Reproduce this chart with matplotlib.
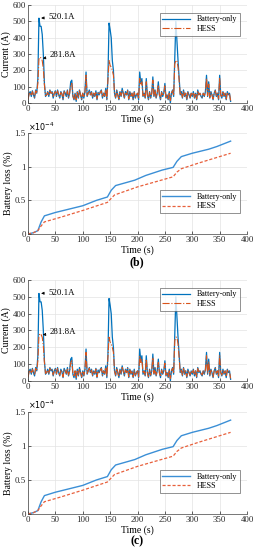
import numpy as np
import matplotlib
matplotlib.use('Agg')
import matplotlib.pyplot as plt
from matplotlib.ticker import FuncFormatter

plt.rcParams['font.family'] = ['Liberation Serif', 'DejaVu Serif']
plt.rcParams['font.size'] = 6

BLUE = '#0072BD'
ORANGE = '#D95319'

# current, sampled every 2 s from 0 to 370 s
t_cur = np.arange(0, 371, 2)
i_batt = [20, 60, 70, 40, 75, 50, 30, 80, 60, 150,
          520.1, 470, 470, 420, 300, 120, 40, 50, 70, 40,
          80, 60, 70, 30, 60, 75, 40, 80, 50, 30,
          70, 55, 20, 75, 60, 40, 80, 30, 60, 130,
          140, 40, 20, 60, 10, 70, 30, 80, 50, 20,
          60, 30, 70, 190, 40, 60, 80, 50, 70, 30,
          60, 40, 75, 20, 65, 50, 70, 80, 30, 60,
          40, 90, 20, 160, 490, 450, 400, 260, 200, 60,
          30, 80, 50, 20, 70, 40, 90, 60, 30, 70,
          50, 80, 20, 70, 40, 60, 20, 70, 30, 50,
          60, 20, 190, 120, 150, 40, 60, 30, 150, 50,
          20, 70, 30, 60, 160, 40, 80, 30, 60, 130,
          50, 20, 70, 40, 60, 120, 30, 50, 20, 70,
          0, 60, 80, 40, 280, 500, 380, 260, 160, 50,
          70, 30, 80, 40, 60, 20, 70, 50, 30, 60,
          40, 70, 30, 60, 20, 80, 50, 60, 40, 30,
          60, 40, 70, 170, 40, 130, 30, 70, 50, 20,
          60, 80, 40, 60, 20, 170, 50, 30, 70, 40,
          60, 20, 70, 50, 60, 10]
i_hess = [20, 55, 65, 45, 70, 50, 35, 75, 60, 120,
          270, 281.8, 275, 260, 210, 110, 45, 50, 65, 45,
          75, 60, 65, 35, 60, 70, 45, 75, 50, 35,
          65, 55, 25, 70, 60, 45, 75, 35, 60, 110,
          120, 45, 25, 60, 20, 65, 35, 75, 50, 25,
          60, 35, 65, 170, 45, 60, 75, 50, 65, 35,
          60, 45, 70, 25, 60, 50, 65, 75, 35, 60,
          45, 80, 25, 140, 260, 230, 220, 200, 170, 60,
          35, 75, 50, 25, 65, 45, 80, 60, 35, 65,
          50, 75, 25, 65, 45, 60, 25, 65, 35, 50,
          60, 25, 150, 110, 130, 45, 60, 35, 130, 50,
          25, 65, 35, 60, 140, 45, 75, 35, 60, 110,
          50, 25, 65, 45, 60, 105, 35, 50, 25, 65,
          15, 60, 75, 45, 240, 260, 260, 220, 140, 50,
          65, 35, 75, 45, 60, 25, 65, 50, 35, 60,
          45, 65, 35, 60, 25, 75, 50, 60, 45, 35,
          60, 45, 65, 150, 45, 115, 35, 65, 50, 25,
          60, 75, 45, 60, 25, 150, 50, 35, 65, 45,
          60, 25, 65, 50, 55, 15]

# battery loss (%), in units of 1e-4
t_loss_b = [0, 10, 18, 24, 30, 50, 75, 100, 125, 145, 152, 160, 195, 215, 245, 265, 272, 280, 300, 330, 345, 370]
loss_b = [0, 0.02, 0.05, 0.18, 0.27, 0.32, 0.37, 0.42, 0.5, 0.55, 0.65, 0.72, 0.8, 0.87, 0.95, 0.99, 1.08, 1.15, 1.2, 1.26, 1.3, 1.38]
t_loss_h = [0, 10, 18, 24, 30, 60, 100, 145, 152, 158, 200, 265, 272, 280, 310, 370]
loss_h = [0, 0.02, 0.05, 0.12, 0.18, 0.25, 0.35, 0.47, 0.53, 0.58, 0.7, 0.85, 0.92, 0.97, 1.05, 1.2]
loss_b = [v * 1e-4 for v in loss_b]
loss_h = [v * 1e-4 for v in loss_h]


def style(ax):
    for s in ['top', 'right']:
        ax.spines[s].set_visible(False)
    for s in ['left', 'bottom']:
        ax.spines[s].set_color('#404040')
        ax.spines[s].set_linewidth(0.5)
    ax.grid(True, color='#e3e3e3', linewidth=0.5)
    ax.set_axisbelow(True)
    ax.tick_params(direction='in', length=2, width=0.5, pad=1.5, colors='#262626', labelsize=6.3)
    ax.set_xlim(0, 400)
    ax.set_xticks(range(0, 401, 50))
    ax.set_xlabel('Time (s)', fontsize=7, labelpad=1)


def current_panel(ax):
    style(ax)
    ax.plot(t_cur, i_batt, color=BLUE, lw=0.9, label='Battery-only')
    ax.plot(t_cur, i_hess, color=ORANGE, lw=0.8, ls='-.', label='HESS')
    ax.set_ylim(0, 600)
    ax.set_yticks(range(0, 601, 100))
    ax.set_ylabel('Current (A)', fontsize=7, labelpad=1)
    leg = ax.legend(loc='upper right', bbox_to_anchor=(0.985, 0.96), fontsize=5.8,
                    frameon=True, fancybox=False, edgecolor='#404040',
                    handlelength=3.5, borderpad=0.3, labelspacing=0.2)
    leg.get_frame().set_linewidth(0.5)
    pb = int(np.argmax(i_batt))
    ph = int(np.argmax(i_hess))
    ax.annotate(f'{i_batt[pb]:.1f}A', xy=(t_cur[pb] - 1, i_batt[pb]), xytext=(38, 525),
                va='center', fontsize=6.3,
                arrowprops=dict(arrowstyle='-|>', color='black', lw=0.5, mutation_scale=4))
    ax.annotate(f'{i_hess[ph]:.1f}A', xy=(t_cur[ph], i_hess[ph] - 10), xytext=(40, 292),
                va='center', fontsize=6.3,
                arrowprops=dict(arrowstyle='-|>', color='black', lw=0.5, mutation_scale=4))


def loss_panel(ax):
    style(ax)
    ax.plot(t_loss_b, loss_b, color='#3b8fd6', lw=1.0, label='Battery-only')
    ax.plot(t_loss_h, loss_h, color='#e8603c', lw=0.9, ls=(0, (2.5, 1.5)), label='HESS')
    ax.set_ylim(0, 1.5e-4)
    ax.set_yticks([0, 0.5e-4, 1e-4, 1.5e-4])
    ax.yaxis.set_major_formatter(FuncFormatter(lambda v, p: f'{v * 1e4:g}'))
    ax.set_ylabel('Battery loss (%)', fontsize=7, labelpad=1)
    ax.text(0, 1.005, r'$\times 10^{-4}$', transform=ax.transAxes, fontsize=5.8,
            ha='left', va='bottom')
    leg = ax.legend(loc='lower right', bbox_to_anchor=(0.985, 0.17), fontsize=5.8,
                    frameon=True, fancybox=False, edgecolor='#404040',
                    handlelength=3.5, borderpad=0.3, labelspacing=0.2)
    leg.get_frame().set_linewidth(0.5)


fig = plt.figure(figsize=(2.58, 5.5), dpi=100)
ax1 = fig.add_axes([0.1085, 0.8127, 0.849, 0.178])
ax2 = fig.add_axes([0.1085, 0.5745, 0.849, 0.1836])
ax3 = fig.add_axes([0.1085, 0.3073, 0.849, 0.1836])
ax4 = fig.add_axes([0.1085, 0.0655, 0.849, 0.1855])

current_panel(ax1)
loss_panel(ax2)
current_panel(ax3)
loss_panel(ax4)

fig.text(0.53, 1 - 262 / 550, '(b)', ha='center', va='center', fontsize=8.5, fontweight='bold')
fig.text(0.53, 1 - 541 / 550, '(c)', ha='center', va='center', fontsize=8.5, fontweight='bold')

fig.savefig('out.png', dpi=100)
